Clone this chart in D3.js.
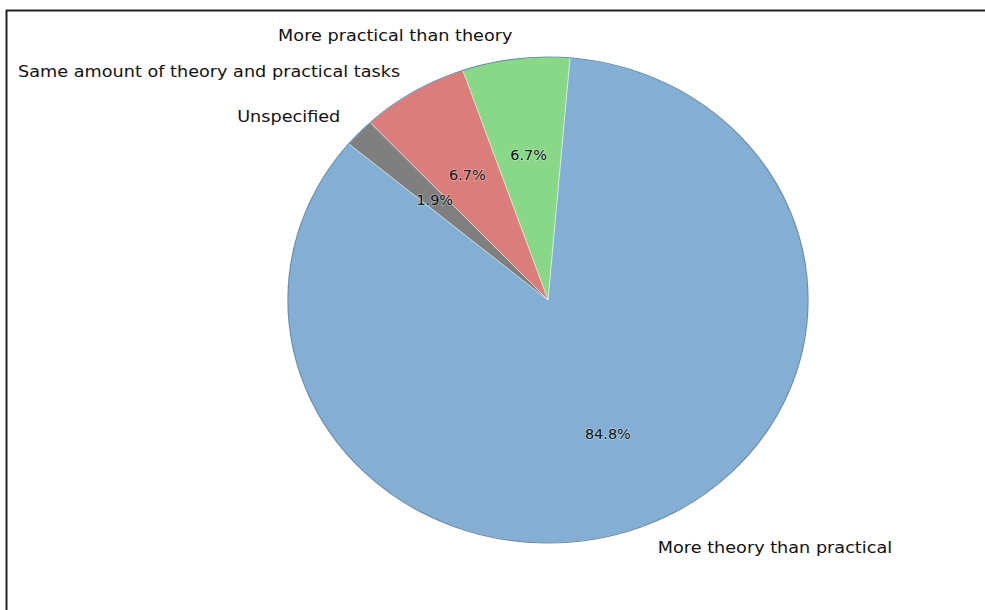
<!DOCTYPE html>
<html>
<head>
<meta charset="utf-8">
<script src="https://cdn.jsdelivr.net/npm/d3@7"></script>
<style>
  body { margin: 0; background: #fff; }
  text { font-family: "DejaVu Sans", sans-serif; }
</style>
</head>
<body>
<div id="chart"></div>
<script>
// answers (counts out of 105)
var labels = ["More theory than practical", "More practical than theory",
              "Same amount of theory and practical tasks", "Unspecified"];
var counts = [89, 7, 7, 2];
var colors = ["#82afd3", "#88d888", "#db7e7b", "#7f7f7f"];
var startAngle = 140;   // degrees, matplotlib style (counterclockwise from 3 o'clock)

var width = 985, height = 610;
var cx = 548, cy = 300, r = 243, xstretch = 1.07;

var svg = d3.select("#chart").append("svg")
    .attr("width", width)
    .attr("height", height);

// frame (only top and left edges show in the picture)
svg.append("line")
    .attr("x1", 6).attr("x2", width).attr("y1", 10.5).attr("y2", 10.5)
    .attr("stroke", "#222").attr("stroke-width", 2);
svg.append("line")
    .attr("x1", 6.5).attr("x2", 6.5).attr("y1", 10).attr("y2", height)
    .attr("stroke", "#222").attr("stroke-width", 2);

var data = labels.map(function(l, i) { return {label: l, value: counts[i], color: colors[i]}; });
var total = d3.sum(counts);

// convert matplotlib ccw angles to d3 clockwise-from-12 angles
var toD3 = function(deg) { return (90 - deg) * Math.PI / 180; };

var pie = d3.pie()
    .value(function(d) { return d.value; })
    .sort(null)
    .startAngle(toD3(startAngle))
    .endAngle(toD3(startAngle) - 2 * Math.PI);

var arcs = pie(data);

var g = svg.append("g")
    .attr("transform", "translate(" + cx + "," + cy + ") scale(" + xstretch + ",1)");

var arc = d3.arc().innerRadius(0).outerRadius(r);

g.selectAll("path.slice")
    .data(arcs)
  .enter().append("path")
    .attr("class", "slice")
    .attr("d", arc)
    .attr("fill", function(d) { return d.data.color; })
    .attr("stroke", "#ffffff")
    .attr("stroke-opacity", 0.5)
    .attr("stroke-width", 0.8);

// darker rim
g.append("circle")
    .attr("r", r)
    .attr("fill", "none")
    .attr("stroke", "#6c8eab")
    .attr("stroke-width", 1.2);

var mid = function(d) { return (d.startAngle + d.endAngle) / 2; };

// outside labels at 1.1 r
g.selectAll("text.lbl")
    .data(arcs)
  .enter().append("text")
    .attr("class", "lbl")
    .attr("x", function(d) { return 1.1 * r * Math.sin(mid(d)); })
    .attr("y", function(d) { return -1.1 * r * Math.cos(mid(d)); })
    .attr("dy", "0.35em")
    .attr("text-anchor", function(d) { return Math.sin(mid(d)) > 0 ? "start" : "end"; })
    .attr("font-size", 16.5)
    .attr("fill", "#111")
    .text(function(d) { return d.data.label; });

// percentages at 0.6 r
g.selectAll("text.pct")
    .data(arcs)
  .enter().append("text")
    .attr("class", "pct")
    .attr("x", function(d) { return 0.6 * r * Math.sin(mid(d)); })
    .attr("y", function(d) { return -0.6 * r * Math.cos(mid(d)); })
    .attr("dy", "0.35em")
    .attr("text-anchor", "middle")
    .attr("font-size", 13.5)
    .attr("fill", "#111")
    .attr("stroke", "#ffffff")
    .attr("stroke-opacity", 0.35)
    .attr("stroke-width", 1.5)
    .attr("paint-order", "stroke")
    .text(function(d) { return (d.value / total * 100).toFixed(1) + "%"; });
</script>
</body>
</html>
